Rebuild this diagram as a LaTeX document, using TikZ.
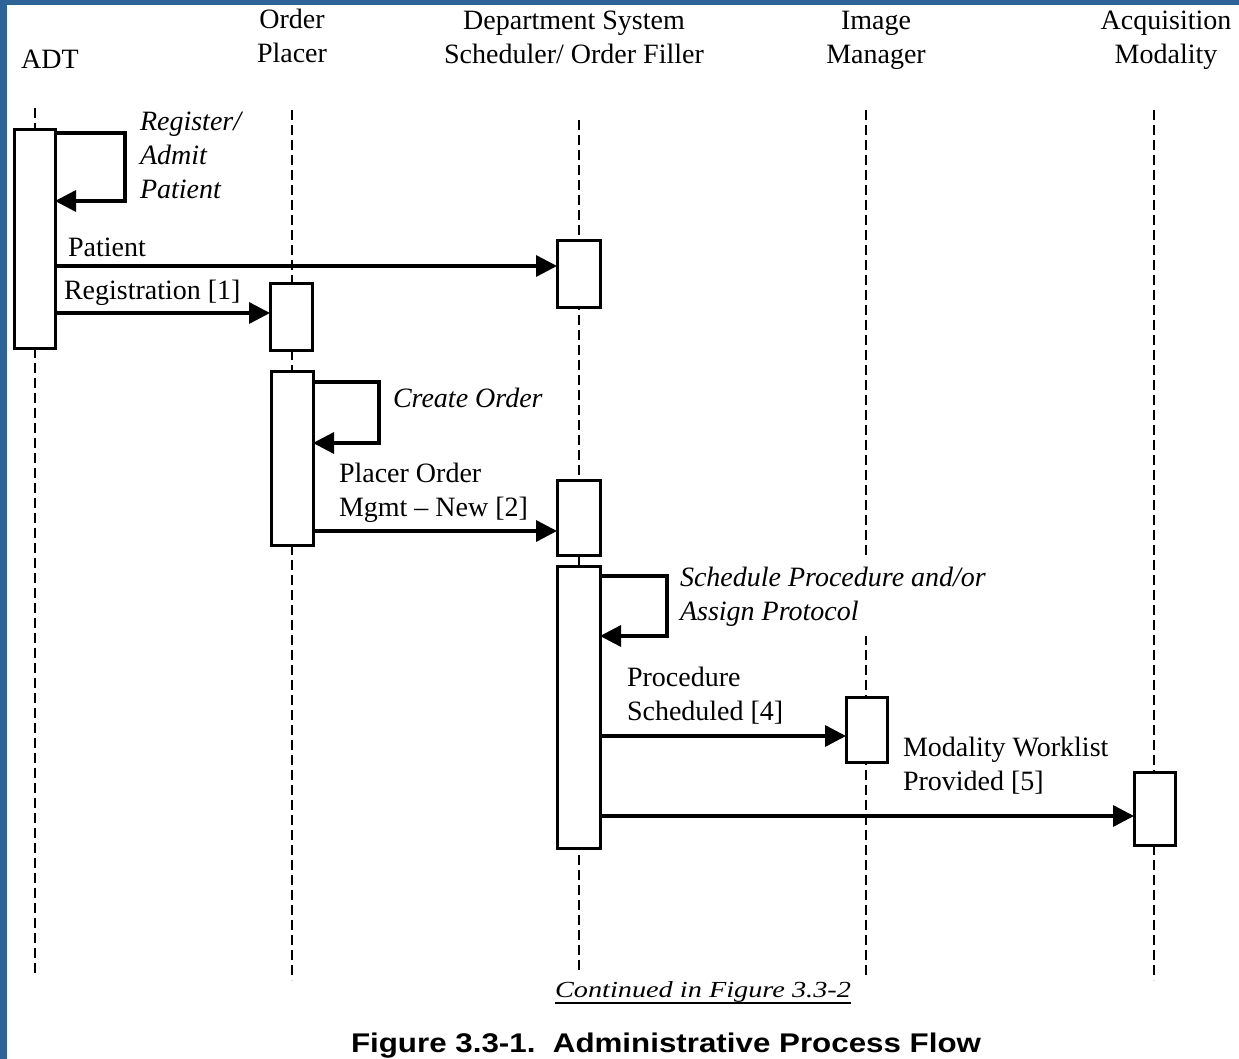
\documentclass[tikz,border=0pt]{standalone}
\usepackage{fontspec}
\usepackage{graphicx}
\setmainfont{Liberation Serif}
\newfontfamily\capfont{Liberation Sans}
\usetikzlibrary{arrows.meta}
\definecolor{frameblue}{RGB}{46,99,151}
\newcommand\stackl[1]{\begin{tabular}[t]{@{}l@{}}#1\end{tabular}}
\newcommand\stackc[1]{\begin{tabular}[t]{@{}c@{}}#1\end{tabular}}
\begin{document}
\begin{tikzpicture}[x=1pt,y=-1pt,
  every node/.style={inner sep=0pt, outer sep=0pt},
  lbl/.style={font=\fontsize{28}{34}\selectfont, anchor=base west},
  ilbl/.style={font=\fontsize{28}{34}\selectfont\itshape, anchor=base west},
  hdr/.style={font=\fontsize{28}{34}\selectfont, anchor=base},
  life/.style={line width=2.6pt, dash pattern=on 10pt off 5pt},
  actbox/.style={draw, fill=white, line width=3pt, rectangle},
  msg/.style={line width=3.4pt, -{Triangle[length=21pt,width=21pt]}, line join=miter},
]
\useasboundingbox (0,0) rectangle (1239,1059);
\fill[white] (0,0) rectangle (1239,1059);
\fill[frameblue] (0,0) rectangle (7,1059);
\fill[frameblue] (0,0) rectangle (1239,5);

% headers
\node[hdr] (hADT) at (50,69) {ADT};
\node[hdr] (hOP) at (292,29) {\stackc{Order\\Placer}};
\node[hdr] (hDSS) at (574,30) {\stackc{Department System\\Scheduler/ Order Filler}};
\node[hdr] (hIM) at (876,30) {\stackc{Image\\Manager}};
\node[hdr] (hAM) at (1166,30) {\stackc{Acquisition\\Modality}};

% lifelines
\coordinate (adtT) at (35,108);   \coordinate (adtB) at (35,977);
\coordinate (opT) at (292,110);   \coordinate (opB) at (292,980);
\coordinate (dssT) at (579,120);  \coordinate (dssB) at (579,970);
\coordinate (imT) at (866,110);   \coordinate (imB) at (866,978);
\coordinate (amT) at (1154,110);  \coordinate (amB) at (1154,980);
\draw[life] (adtT) -- (adtB);
\draw[life] (opT) -- (opB);
\draw[life] (dssT) -- (dssB);
\draw[life] (imT) -- (imB);
\draw[life] (amT) -- (amB);

% activation boxes
\node[actbox, minimum width=41pt, minimum height=218pt] (adt1) at (34.5,239) {};
\node[actbox, minimum width=42pt, minimum height=66pt] (op1) at (291,317) {};
\node[actbox, minimum width=42pt, minimum height=174pt] (op2) at (292,458) {};
\node[actbox, minimum width=43pt, minimum height=66pt] (dss1) at (578.5,274) {};
\node[actbox, minimum width=43pt, minimum height=75pt] (dss2) at (578.5,517.5) {};
\node[actbox, minimum width=43pt, minimum height=282pt] (dss3) at (578.5,707) {};
\node[actbox, minimum width=41pt, minimum height=65pt] (im1) at (866.5,729.5) {};
\node[actbox, minimum width=41pt, minimum height=73pt] (am1) at (1154.5,808.5) {};

% self loops
\coordinate (l1a) at (125,133); \coordinate (l1b) at (125,201);
\draw[msg] (adt1.east |- l1a) -- (l1a) -- (l1b) -- (adt1.east |- l1b);
\coordinate (l2a) at (379,382); \coordinate (l2b) at (379,443);
\draw[msg] (op2.east |- l2a) -- (l2a) -- (l2b) -- (op2.east |- l2b);
\coordinate (l3a) at (667,576); \coordinate (l3b) at (667,636);
\draw[msg] (dss3.east |- l3a) -- (l3a) -- (l3b) -- (dss3.east |- l3b);

% messages
\coordinate (y1) at (0,266);
\draw[msg] (adt1.east |- y1) -- (dss1.west |- y1);
\coordinate (y2) at (0,313);
\draw[msg] (adt1.east |- y2) -- (op1.west |- y2);
\coordinate (y3) at (0,531);
\draw[msg] (op2.east |- y3) -- (dss2.west |- y3);
\coordinate (y4) at (0,736);
\draw[msg] (dss3.east |- y4) -- (im1.west |- y4);
\coordinate (y5) at (0,816);
\draw[msg] (dss3.east |- y5) -- (am1.west |- y5);

% labels
\node[ilbl] (tReg) at (140,131) {\stackl{Register/\\Admit\\Patient}};
\node[lbl] (tPat) at (68,257) {Patient};
\node[lbl] (tRegn) at (64,299) {Registration [1]};
\node[ilbl] (tCO) at (393,407) {Create Order};
\node[lbl] (tPO) at (339,482) {\stackl{Placer Order\\Mgmt -- New [2]}};
\node[ilbl, fill=white, inner ysep=6pt] (tSP) at (680,586) {\stackl{Schedule Procedure and/or\\Assign Protocol}};
\node[lbl] (tPS) at (627,686) {\stackl{Procedure\\Scheduled [4]}};
\node[lbl] (tMW) at (903,756) {\stackl{Modality Worklist\\Provided [5]}};

% continuation and caption
\node[anchor=base west] (cont) at (555,997) {\itshape\fontsize{23}{28}\selectfont\scalebox{1.23}[1]{Continued in Figure 3.3-2}};
\draw[line width=1.5pt] ([yshift=-6pt]cont.base west) -- ([yshift=-6pt]cont.base east);
\node[anchor=base west] (cap) at (351,1052) {\capfont\bfseries\fontsize{27}{32}\selectfont\scalebox{1.16}[1]{Figure 3.3-1.\ \ Administrative Process Flow}};
\end{tikzpicture}
\end{document}
